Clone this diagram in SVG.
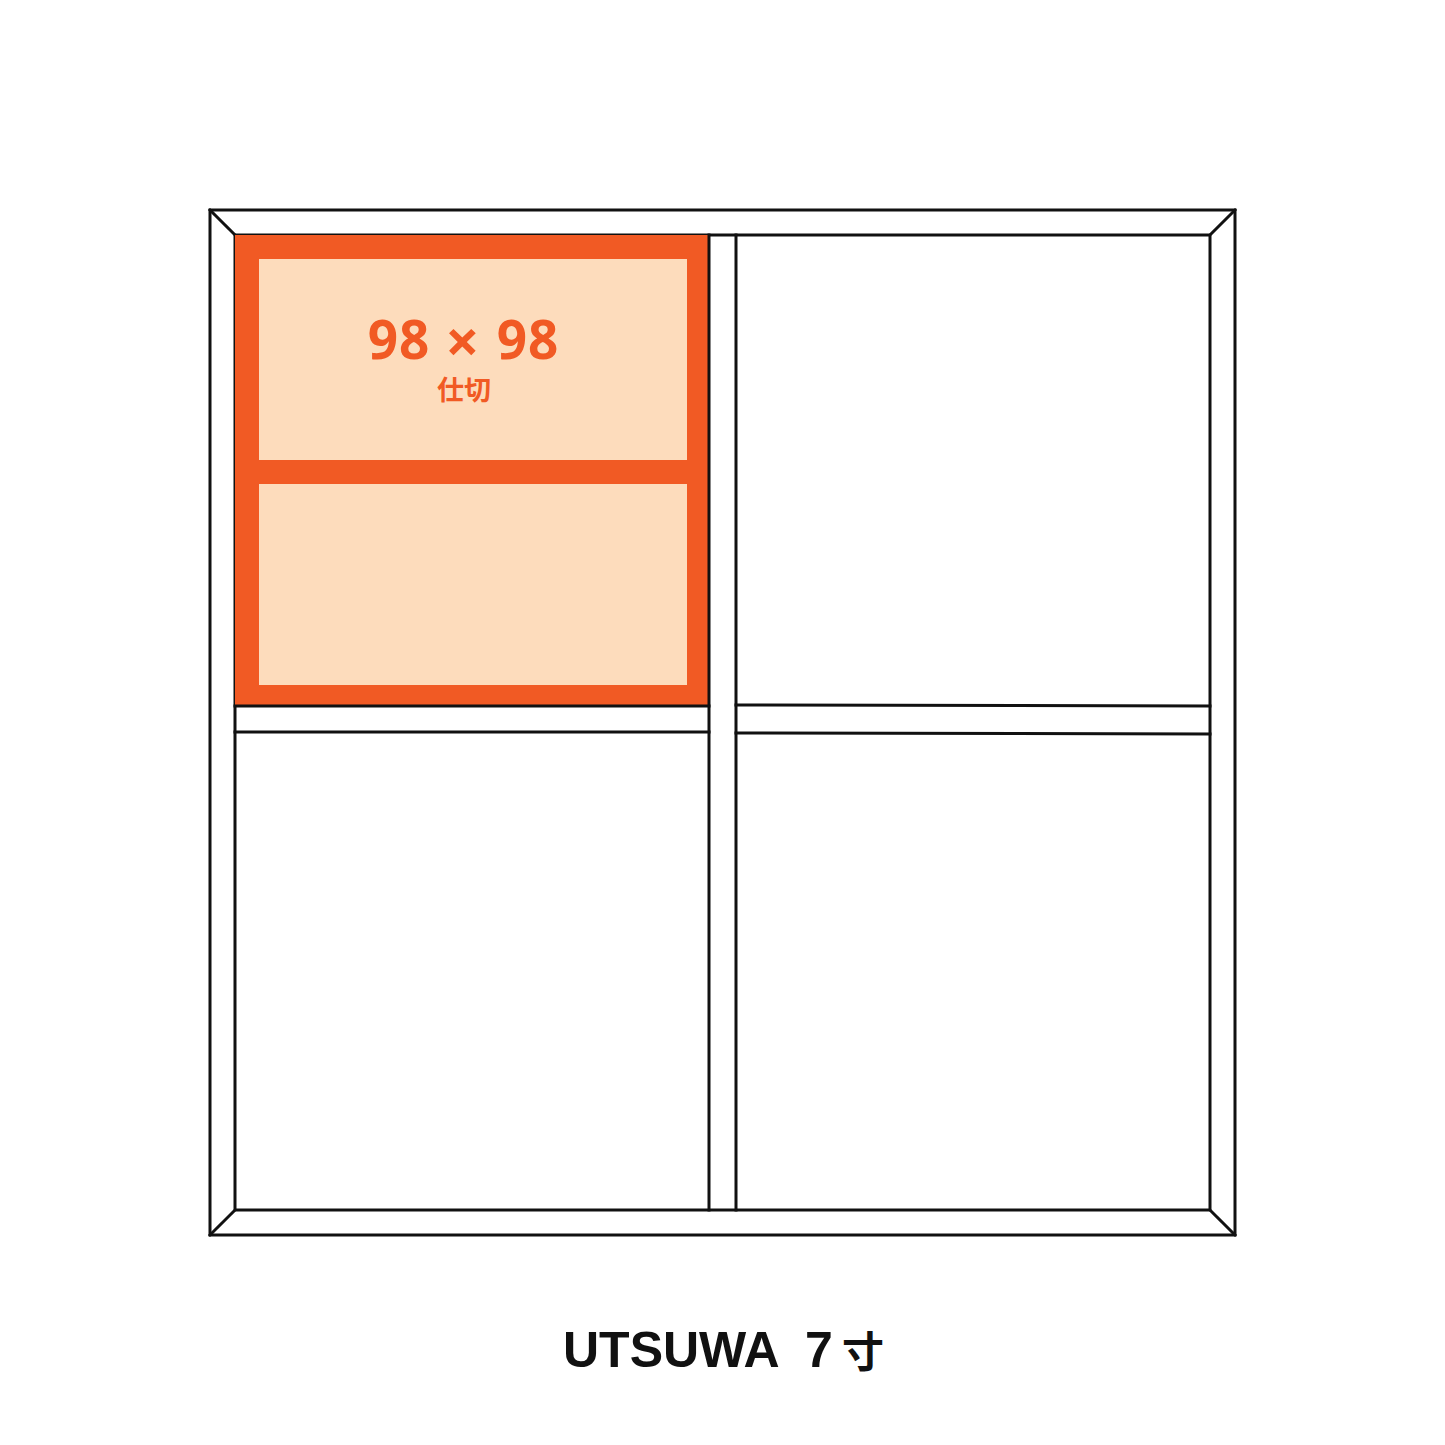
<svg xmlns="http://www.w3.org/2000/svg" width="1445" height="1445" viewBox="0 0 1445 1445">
<style>
.ln{fill:none;stroke:#111;stroke-width:3;stroke-linecap:square}
.or{fill:#F15A24}
.lt{fill:#FDDCBC}
.t1{font-family:"Noto Sans","Noto Sans CJK JP",sans-serif;font-weight:700;fill:#F15A24;text-anchor:middle}
.t2{font-family:"Liberation Sans","Noto Sans CJK JP",sans-serif;font-weight:700;fill:#111}
</style>
<rect width="1445" height="1445" fill="#fff"/>
<g id="frame">
<rect class="ln" x="210" y="210" width="1025" height="1025"/>
<rect class="ln" x="235" y="235" width="975" height="975"/>
<line class="ln" x1="210" y1="210" x2="235" y2="235"/>
<line class="ln" x1="1235" y1="210" x2="1210" y2="235"/>
<line class="ln" x1="210" y1="1235" x2="235" y2="1210"/>
<line class="ln" x1="1235" y1="1235" x2="1210" y2="1210"/>
</g>
<g id="highlight">
<rect class="or" x="235" y="235" width="474" height="471"/>
<rect class="lt" x="259" y="259" width="428" height="201"/>
<rect class="lt" x="259" y="484" width="428" height="201"/>
<text class="t1" font-size="53" letter-spacing="1"><tspan x="399" y="359">98</tspan><tspan x="463" y="363" font-size="60">×</tspan><tspan x="528" y="359">98</tspan></text>
<text class="t1" x="464" y="400" font-size="27">仕切</text>
</g>
<g id="dividers">
<line class="ln" x1="709" y1="235" x2="709" y2="1210"/>
<line class="ln" x1="736" y1="235" x2="736" y2="1210"/>
<line class="ln" x1="235" y1="706" x2="709" y2="706"/>
<line class="ln" x1="235" y1="732" x2="709" y2="732"/>
<line class="ln" x1="736" y1="705" x2="1210" y2="706"/>
<line class="ln" x1="736" y1="733" x2="1210" y2="734"/>
</g>
<g id="title">
<text class="t2" font-size="50"><tspan x="563" y="1367">UTSUWA</tspan><tspan x="805" y="1367">7</tspan><tspan x="842" y="1367" font-size="42" font-family="'Noto Sans CJK JP',sans-serif">寸</tspan></text>
</g>
</svg>
